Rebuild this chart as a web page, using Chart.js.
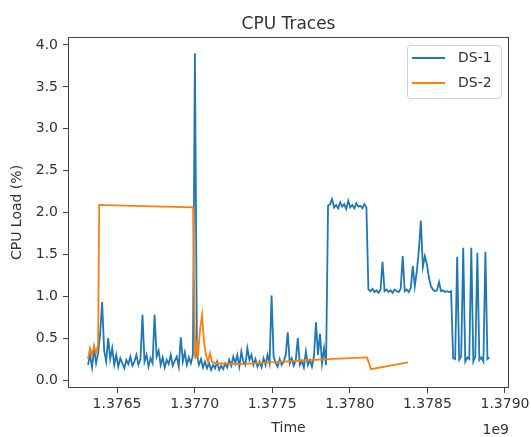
<!DOCTYPE html>
<html>
<head>
<meta charset="utf-8">
<title>CPU Traces</title>
<script src="https://cdn.jsdelivr.net/npm/chart.js@4.4.1/dist/chart.umd.min.js"></script>
<style>
  body { margin: 0; background: #fff; }
  canvas { display: block; }
</style>
</head>
<body>
<canvas id="chart-1" width="531" height="437"></canvas>
<script>
// DS-1 trace (time in seconds, load in %)
const ds1Time = [
    1376313000, 1376326000, 1376339000, 1376352000, 1376365000, 1376378000, 1376391000, 1376404000, 1376417000, 1376430000,
    1376443000, 1376456000, 1376469000, 1376482000, 1376495000, 1376508000, 1376521000, 1376534000, 1376547000, 1376560000,
    1376573000, 1376586000, 1376599000, 1376612000, 1376625000, 1376638000, 1376651000, 1376664000, 1376677000, 1376690000,
    1376703000, 1376716000, 1376729000, 1376742000, 1376755000, 1376768000, 1376781000, 1376794000, 1376807000, 1376820000,
    1376833000, 1376846000, 1376859000, 1376872000, 1376885000, 1376898000, 1376911000, 1376924000, 1376937000, 1376950000,
    1376963000, 1376976000, 1376989000, 1377002000, 1377015000, 1377028000, 1377041000, 1377054000, 1377067000, 1377080000,
    1377093000, 1377106000, 1377119000, 1377132000, 1377145000, 1377158000, 1377171000, 1377184000, 1377197000, 1377210000,
    1377223000, 1377236000, 1377249000, 1377262000, 1377275000, 1377288000, 1377301000, 1377314000, 1377327000, 1377340000,
    1377353000, 1377366000, 1377379000, 1377392000, 1377405000, 1377418000, 1377431000, 1377444000, 1377457000, 1377470000,
    1377483000, 1377496000, 1377509000, 1377522000, 1377535000, 1377548000, 1377561000, 1377574000, 1377587000, 1377600000,
    1377613000, 1377626000, 1377639000, 1377652000, 1377665000, 1377678000, 1377691000, 1377704000, 1377717000, 1377730000,
    1377743000, 1377756000, 1377769000, 1377782000, 1377795000, 1377808000, 1377821000, 1377834000, 1377847000, 1377860000,
    1377873000, 1377886000, 1377899000, 1377912000, 1377925000, 1377938000, 1377951000, 1377964000, 1377977000, 1377990000,
    1378003000, 1378016000, 1378029000, 1378042000, 1378055000, 1378068000, 1378081000, 1378094000, 1378107000, 1378120000,
    1378133000, 1378146000, 1378159000, 1378172000, 1378185000, 1378198000, 1378211000, 1378224000, 1378237000, 1378250000,
    1378263000, 1378276000, 1378289000, 1378302000, 1378315000, 1378328000, 1378341000, 1378354000, 1378367000, 1378380000,
    1378393000, 1378406000, 1378419000, 1378432000, 1378445000, 1378458000, 1378471000, 1378484000, 1378497000, 1378510000,
    1378523000, 1378536000, 1378549000, 1378562000, 1378575000, 1378588000, 1378601000, 1378614000, 1378627000, 1378640000,
    1378653000, 1378666000, 1378679000, 1378692000, 1378705000, 1378718000, 1378731000, 1378744000, 1378757000, 1378770000,
    1378783000, 1378796000, 1378809000, 1378822000, 1378835000, 1378848000, 1378861000, 1378874000, 1378887000, 1378900000
];
const ds1Load = [
    0.18, 0.30, 0.15, 0.38, 0.20, 0.32, 0.55, 0.93, 0.35, 0.22,
    0.50, 0.25, 0.38, 0.18, 0.30, 0.16, 0.26, 0.20, 0.14, 0.24,
    0.19, 0.28, 0.17, 0.22, 0.30, 0.18, 0.25, 0.78, 0.22, 0.30,
    0.16, 0.26, 0.20, 0.78, 0.28, 0.35, 0.18, 0.27, 0.15, 0.24,
    0.19, 0.30, 0.17, 0.23, 0.28, 0.16, 0.51, 0.22, 0.33, 0.18,
    0.27, 0.20, 0.30, 3.90, 0.30, 0.18, 0.25, 0.15, 0.22, 0.14,
    0.20, 0.12, 0.18, 0.14, 0.22, 0.12, 0.17, 0.13, 0.20, 0.15,
    0.24, 0.17, 0.28, 0.20, 0.30, 0.16, 0.34, 0.22, 0.18, 0.38,
    0.24, 0.30, 0.18, 0.25, 0.16, 0.22, 0.15, 0.26, 0.18, 0.30,
    0.20, 1.01, 0.28, 0.20, 0.16, 0.25, 0.18, 0.22, 0.30, 0.57,
    0.20, 0.26, 0.17, 0.24, 0.50, 0.18, 0.23, 0.15, 0.34, 0.18,
    0.24, 0.16, 0.28, 0.69, 0.30, 0.55, 0.20, 0.38, 0.18, 2.08,
    2.10, 2.16, 2.06, 2.09, 2.05, 2.12, 2.07, 2.10, 2.04, 2.14,
    2.06, 2.09, 2.05, 2.11, 2.07, 2.08, 2.05, 2.10, 2.06, 1.08,
    1.06, 1.09, 1.05, 1.07, 1.04, 1.08, 1.41, 1.06, 1.08, 1.05,
    1.07, 1.04, 1.08, 1.06, 1.05, 1.09, 1.48, 1.06, 1.08, 1.05,
    1.10, 1.36, 1.12, 1.30, 1.55, 1.90, 1.35, 1.48, 1.38, 1.22,
    1.12, 1.08, 1.06, 1.07, 1.17, 1.06, 1.07, 1.05, 1.06, 1.05,
    1.06, 0.26, 0.25, 1.47, 0.24, 0.28, 1.58, 0.22, 0.27, 0.25,
    1.58, 0.22, 0.28, 1.52, 0.24, 0.27, 0.22, 1.53, 0.25, 0.27
];

// DS-2 trace
const ds2Time = [
    1376313000, 1376326000, 1376339000, 1376352000, 1376365000, 1376378000, 1376385000,
    1376600000, 1376800000, 1376990000, 1377003000, 1377009000, 1377022000, 1377035000,
    1377048000, 1377061000, 1377073000, 1377086000, 1377099000, 1377112000, 1377131000,
    1377292000, 1377486000, 1377679000, 1377860000, 1378111000, 1378137000, 1378375000
];
const ds2Load = [
    0.25, 0.38, 0.30, 0.40, 0.33, 0.42, 2.09,
    2.08, 2.07, 2.06, 0.25, 0.45, 0.30, 0.60,
    0.78, 0.45, 0.30, 0.22, 0.32, 0.22, 0.20,
    0.19, 0.21, 0.23, 0.25, 0.27, 0.13, 0.21
];

const xTicks = [1376500000, 1377000000, 1377500000, 1378000000, 1378500000, 1379000000];
const xTickLabels = ['1.3765', '1.3770', '1.3775', '1.3780', '1.3785', '1.3790'];
const yTicks = [0, 0.5, 1.0, 1.5, 2.0, 2.5, 3.0, 3.5, 4.0];
const yTickLabels = ['0.0', '0.5', '1.0', '1.5', '2.0', '2.5', '3.0', '3.5', '4.0'];

const FONT = 'DejaVu Sans';
const TEXT = '#333';
const AXIS = '#444';
const LINE_W = 1.8;

function toPoints(times, loads) {
    return times.map((t, i) => ({ x: t, y: loads[i] }));
}

// title, frame, legend and offset text drawn matplotlib-style
const decorations = {
    id: 'decorations',
    afterDatasetsDraw(chart) {
        const { ctx, chartArea: a } = chart;
        ctx.save();
        ctx.strokeStyle = AXIS;
        ctx.lineWidth = 1;
        ctx.strokeRect(a.left + 0.5, a.top + 0.5, a.right - a.left - 1, a.bottom - a.top - 1);

        // legend box
        const bx = a.right - 101.5, by = a.top + 8.5, bw = 94, bh = 53;
        ctx.beginPath();
        ctx.roundRect(bx, by, bw, bh, 3);
        ctx.fillStyle = 'rgba(255,255,255,0.8)';
        ctx.fill();
        ctx.strokeStyle = '#d0d0d0';
        ctx.stroke();
        ctx.font = '14px "' + FONT + '"';
        ctx.textBaseline = 'middle';
        ctx.textAlign = 'left';
        chart.data.datasets.forEach((ds, i) => {
            const ly = a.top + 21 + i * 25;
            ctx.beginPath();
            ctx.moveTo(bx + 4.5, ly);
            ctx.lineTo(bx + 37.5, ly);
            ctx.strokeStyle = ds.borderColor;
            ctx.lineWidth = LINE_W;
            ctx.stroke();
            ctx.fillStyle = TEXT;
            ctx.fillText(ds.label, bx + 50.5, ly);
        });

        // title
        ctx.font = '17px "' + FONT + '"';
        ctx.textAlign = 'center';
        ctx.textBaseline = 'alphabetic';
        ctx.fillText('CPU Traces', (a.left + a.right) / 2, a.top - 8);

        // x offset
        ctx.font = '14px "' + FONT + '"';
        ctx.textAlign = 'right';
        ctx.textBaseline = 'middle';
        ctx.fillText('1e9', a.right, 430);
        ctx.restore();
    }
};

function plotGraph() {
    const ctx = document.getElementById('chart-1').getContext('2d');
    const tickFont = { family: FONT, size: 14 };

    new Chart(ctx, {
        type: 'line',
        data: {
            datasets: [
                {
                    label: 'DS-1',
                    data: toPoints(ds1Time, ds1Load),
                    borderColor: '#1f77b4',
                    borderWidth: LINE_W,
                    pointRadius: 0,
                    tension: 0,
                    order: 1
                },
                {
                    label: 'DS-2',
                    data: toPoints(ds2Time, ds2Load),
                    borderColor: '#ff7f0e',
                    borderWidth: LINE_W,
                    pointRadius: 0,
                    tension: 0,
                    order: 0  // on top, like matplotlib
                }
            ]
        },
        options: {
            responsive: false,
            animation: false,
            layout: { padding: { top: 37, right: 22, left: 0, bottom: 0 } },
            scales: {
                x: {
                    type: 'linear',
                    min: 1376184000,
                    max: 1379026000,
                    afterBuildTicks: s => { s.ticks = xTicks.map(v => ({ value: v })); },
                    afterFit: s => { s.height = 49; s.paddingLeft = 0; s.paddingRight = 0; },
                    ticks: {
                        callback: (v, i) => xTickLabels[i],
                        font: tickFont,
                        color: TEXT,
                        padding: 3,
                        maxRotation: 0,
                        autoSkip: false
                    },
                    grid: { drawOnChartArea: false, drawTicks: true, tickLength: 5, color: AXIS },
                    border: { display: false },
                    title: { display: true, text: 'Time', font: tickFont, color: TEXT, padding: { top: 0, bottom: 0 } }
                },
                y: {
                    min: -0.0955,
                    max: 4.0955,
                    afterBuildTicks: s => { s.ticks = yTicks.map(v => ({ value: v })); },
                    afterFit: s => { s.width = 68; s.paddingTop = 0; s.paddingBottom = 0; },
                    ticks: {
                        callback: (v, i) => yTickLabels[i],
                        font: tickFont,
                        color: TEXT,
                        padding: 5,
                        autoSkip: false
                    },
                    grid: { drawOnChartArea: false, drawTicks: true, tickLength: 5, color: AXIS },
                    border: { display: false },
                    title: { display: true, text: 'CPU Load (%)', font: tickFont, color: TEXT, padding: { top: 9, bottom: 0 } }
                }
            },
            plugins: {
                legend: { display: false },
                tooltip: { enabled: false }
            }
        },
        plugins: [decorations]
    });
}

plotGraph();
</script>
</body>
</html>
